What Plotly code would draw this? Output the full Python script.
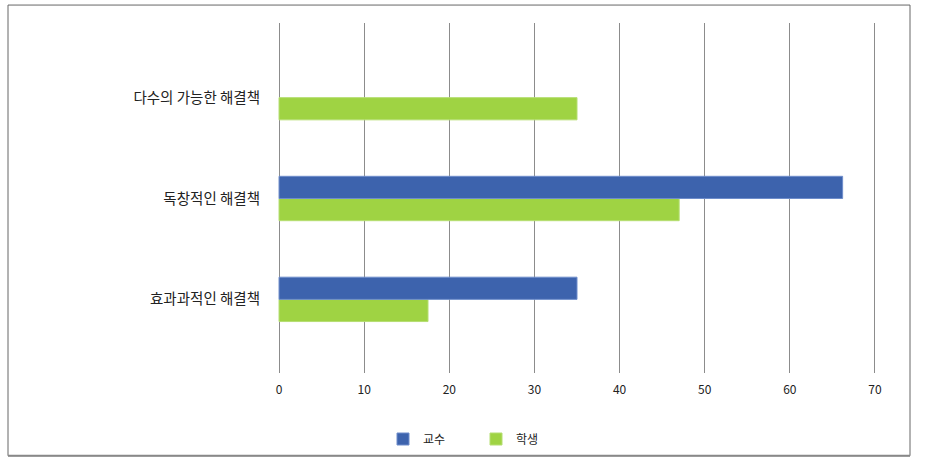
import plotly.graph_objects as go

categories = ["효과과적인 해결책", "독창적인 해결책", "다수의 가능한 해결책"]
professor = [35.0, 66.2, None]
student = [17.5, 47.0, 35.0]
x_ticks = [0, 10, 20, 30, 40, 50, 60, 70]

W, H = 936, 464
L, R, T, B = 278, 60, 23, 90
pw, ph = W - L - R, H - T - B

def px_x(px):
    return (px - L) / pw

def px_y(py):
    return (H - B - py) / ph

fig = go.Figure()
fig.add_trace(go.Bar(
    y=categories, x=student, name="학생", orientation="h",
    marker=dict(color="#9FD343", line=dict(color="#B5DE72", width=1)),
))
fig.add_trace(go.Bar(
    y=categories, x=professor, name="교수", orientation="h",
    marker=dict(color="#3D63AD", line=dict(color="#6E8DCB", width=1)),
))

font_family = "Noto Sans CJK KR, Noto Sans, sans-serif"

fig.update_layout(
    width=W, height=H,
    margin=dict(l=L, r=R, t=T, b=B),
    paper_bgcolor="white", plot_bgcolor="white",
    barmode="group", bargap=0.56, bargroupgap=0,
    font=dict(family=font_family, size=13, color="#222222"),
    showlegend=True,
    legend=dict(
        orientation="h", traceorder="reversed",
        x=px_x(383), xanchor="left", y=px_y(439), yanchor="middle",
        font=dict(size=12, color="#222222"),
        itemwidth=30, tracegroupgap=0,
        entrywidth=48, entrywidthmode="pixels",
    ),
    xaxis=dict(
        range=[-0.12, 70.12], tickvals=x_ticks, showgrid=True,
        gridcolor="#8c8c8c", gridwidth=1, zeroline=False,
        showline=False, ticks="", ticklabelstandoff=8,
        tickfont=dict(size=12, color="#222222"),
        fixedrange=True,
    ),
    yaxis=dict(
        categoryorder="array", categoryarray=categories,
        range=[-0.73, 2.74], showgrid=False, zeroline=False,
        showline=False, ticks="", ticklabelstandoff=17,
        tickfont=dict(size=14.5, color="#222222"),
        fixedrange=True,
    ),
)

# outer frame
fig.add_shape(type="rect", xref="paper", yref="paper",
              x0=px_x(8), x1=px_x(910), y0=px_y(457), y1=px_y(5),
              line=dict(color="#666666", width=1), fillcolor="rgba(0,0,0,0)",
              layer="below")
fig.add_shape(type="line", xref="paper", yref="paper",
              x0=px_x(8), x1=px_x(910), y0=px_y(457), y1=px_y(457),
              line=dict(color="#888888", width=2))

fig.write_html("out.html")
